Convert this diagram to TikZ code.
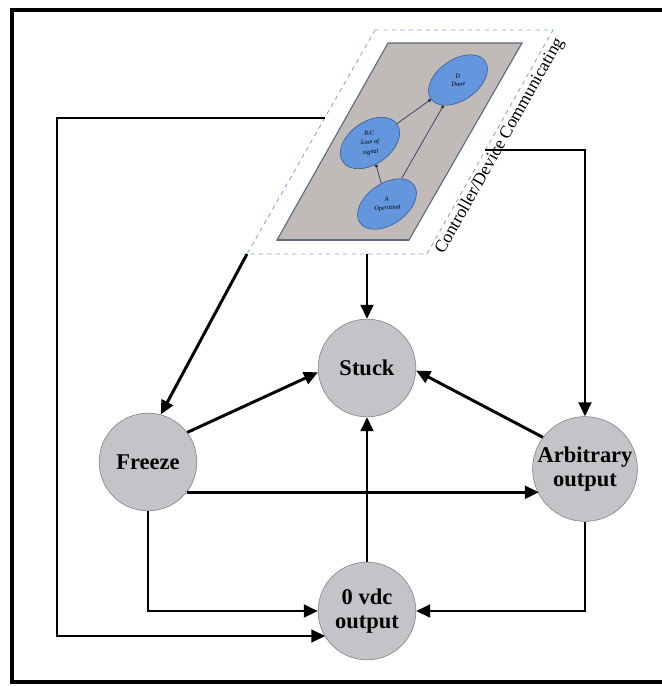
\documentclass[tikz,border=0pt]{standalone}
\usepackage{graphicx}
\usepackage{fontspec}
\setmainfont{Liberation Serif}
\usetikzlibrary{arrows.meta,shapes.geometric}

\definecolor{stategray}{RGB}{196,195,200}
\definecolor{stateedge}{RGB}{125,125,130}
\definecolor{panelgray}{RGB}{192,187,185}
\definecolor{paneledge}{RGB}{95,105,125}
\definecolor{modeblue}{RGB}{100,150,222}
\definecolor{modeedge}{RGB}{55,85,145}
\definecolor{dashblue}{RGB}{125,165,215}

\newcommand{\modelabel}[1]{\rotatebox{-30}{\shortstack{#1}}}

\tikzset{
  state/.style={circle, draw=stateedge, fill=stategray, minimum size=69.5pt,
    inner sep=0pt, align=center, font=\fontsize{16}{17}\selectfont\bfseries},
  flow/.style={line width=2.1pt, -{Triangle[length=10pt,width=9pt]}},
  mode/.style={ellipse, draw=modeedge, fill=modeblue, rotate=35,
    minimum width=47pt, minimum height=29pt, inner sep=0pt,
    font=\fontsize{4.5}{5}\selectfont\itshape},
  modeflow/.style={draw=modeedge!70!black, line width=0.5pt, -{Circle[length=2.4pt]}}
}

\begin{document}
\begin{tikzpicture}[x=0.025cm, y=-0.025cm]
  \useasboundingbox (0,0) rectangle (662,687);
  \fill[white] (0,0) rectangle (662,687);

  % frame
  \draw[line width=3.5pt] (662,10) -- (12,10) -- (12,682) -- (662,682);

  % controller/device panel
  \coordinate (oTL) at (375,30);
  \coordinate (oTR) at (553,30);
  \coordinate (oBR) at (427,254);
  \coordinate (oBL) at (247,254);
  \fill[white] (oTL) -- (oTR) -- (oBR) -- (oBL) -- cycle;
  \draw[dashblue, dashed, line width=0.6pt] (oTL) -- (oTR) -- (oBR) -- (oBL) -- cycle;
  \draw[paneledge, line width=0.8pt, fill=panelgray] (388,43) -- (522,43) -- (409,240) -- (277,240) -- cycle;
  \draw[paneledge, line width=1.6pt] (277,240) -- (409,240);

  \node[mode] (done) at (458,80) {\modelabel{D\\Done}};
  \node[mode] (loss) at (370,143) {\modelabel{B/C\\Loss of\\signal}};
  \node[mode] (oper) at (387,204) {\modelabel{A\\Operating}};
  \draw[modeflow] (loss) -- (done);
  \draw[modeflow] (oper) -- (loss);
  \draw[modeflow] (oper) -- (done);

  \node[rotate=60.6, font=\fontsize{12.5}{13}\selectfont] (ctl) at (500,146) {Controller/Device Communicating};

  \coordinate (inL) at (325,118);
  \coordinate (inR) at (485,150);
  \coordinate (inB) at (367,254);
  \coordinate (loopC) at (57,636);

  % fault states
  \node[state] (stuck) at (367,368) {Stuck};
  \node[state] (freeze) at (148,462) {Freeze};
  \node[state] (arb) at (585,469) {Arbitrary\\output};
  \node[state] (zero) at (367,611) {0 vdc\\output};

  \draw[flow] (inB) -- (stuck.north);
  \draw[flow] (oBL) -- (freeze.75);
  \draw[flow] (inR) -| (arb.north);
  \draw[flow] (inL) -| (loopC) -- (loopC -| zero.212);
  \draw[flow] (freeze.37) -- (stuck.185);
  \draw[flow] (arb.143) -- (stuck.-3);
  \draw[flow] (freeze.-38) -- (freeze.-38 -| arb.209);
  \draw[flow] (zero.north) -- (stuck.south);
  \draw[flow] (freeze.south) |- (zero.west);
  \draw[flow] (arb.south) |- (zero.east);
\end{tikzpicture}
\end{document}
